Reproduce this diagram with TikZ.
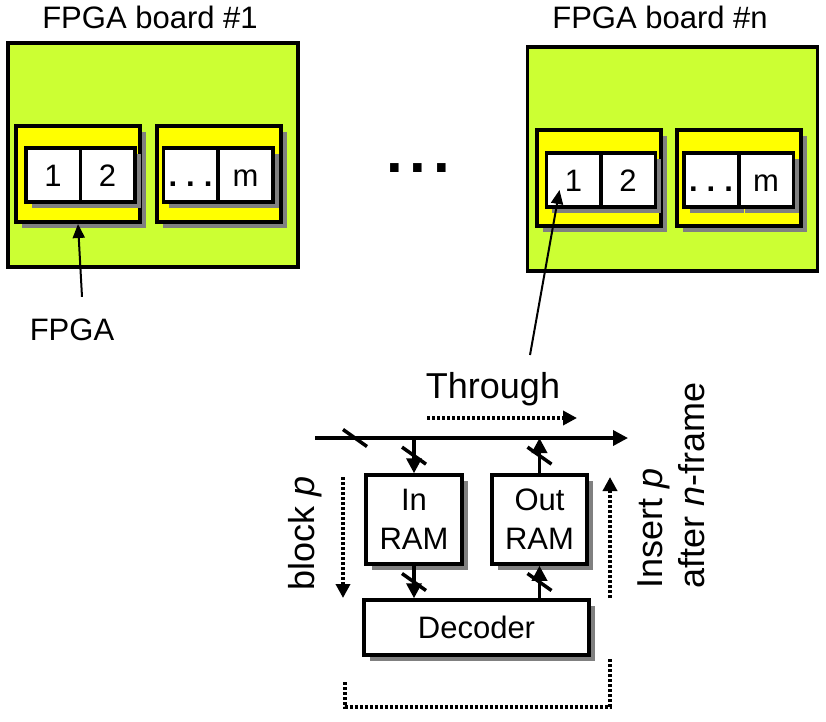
\documentclass[tikz,border=0pt]{standalone}
\usepackage{fontspec}
\setmainfont{Liberation Sans}
\usetikzlibrary{arrows.meta,shadows,calc}
\definecolor{boardgreen}{RGB}{204,255,51}
\definecolor{fpgayellow}{RGB}{255,255,0}
\definecolor{shadowgray}{RGB}{128,128,128}
\newcommand{\unitfont}{\fontsize{31}{39}\selectfont}
\newcommand{\notefont}{\fontsize{36}{42}\selectfont}
\tikzset{
	shade box/.style = {drop shadow={shadow xshift=6pt, shadow yshift=-6pt, fill=shadowgray, opacity=1}},
	board/.style = {draw, line width=3.5pt, fill=boardgreen, minimum width=290pt, minimum height=224pt, inner sep=0pt},
	chip/.style = {draw, line width=4pt, fill=fpgayellow, minimum width=124pt, minimum height=96pt, inner sep=0pt, shade box},
	cell/.style = {draw, line width=3.5pt, fill=white, minimum width=54.5pt, minimum height=54pt, inner sep=0pt, text height=22pt, text depth=0pt, font=\unitfont, shade box},
	unit/.style = {draw, line width=3.5pt, fill=white, align=center, inner sep=0pt, font=\unitfont, shade box},
	bus/.style = {line width=3.5pt, -{Triangle[length=15pt,width=15pt]}},
	flow/.style = {line width=3.5pt, dash pattern=on 3pt off 2pt, -{Triangle[length=14pt,width=14pt]}},
	pointer/.style = {line width=2pt, -{Triangle[length=14pt,width=12pt]}},
	buscut/.pic = {\draw [line width=3.5pt] (-12,-8.5) -- (12,8.5);}
}
\begin{document}
\begin{tikzpicture}[x=1pt, y=-1pt]
	\useasboundingbox (0,0) rectangle (826,721);
	% board #1
	\node [font=\unitfont, anchor=base] (title1) at (150,28) {FPGA board \#1};
	\node [board] (board1) at (153,155) {};
	\node [chip] (fpga11) at (78,174) {};
	\node [chip] (fpga12) at (219,174) {};
	\node [cell] (c11) at (53,175) {1};
	\node [cell] (c12) at (107.5,175) {2};
	\node [cell] (c13) at (190.5,175) {\bfseries .\kern9pt.\kern9pt.};
	\node [cell] (c1m) at (245.5,175) {m};
	% board #n
	\node [font=\unitfont, anchor=base] (titlen) at (660,28) {FPGA board \#n};
	\node [board] (boardn) at (672.5,159) {};
	\node [chip] (fpgan1) at (598.5,177.5) {};
	\node [chip] (fpgan2) at (739,177.5) {};
	\node [cell] (cn1) at (573.5,180) {1};
	\node [cell] (cn2) at (628,180) {2};
	\node [cell] (cn3) at (711,180) {\bfseries .\kern9pt.\kern9pt.};
	\node [cell] (cnm) at (766,180) {m};
	% boards in between
	\node [anchor=base, font=\fontsize{60}{60}\selectfont\bfseries] (more) at (418,172) {.\kern7pt.\kern7pt.};
	\node [font=\unitfont, anchor=base] (fpga) at (72,340) {FPGA};
	\draw [pointer] ([shift={(10,-18)}]fpga.north) -- (fpga11.south);
	% one FPGA
	\node [unit, minimum width=96pt, minimum height=89pt] (inram) at (414,519.5) {In\\RAM};
	\node [unit, minimum width=95pt, minimum height=89pt] (outram) at (539.5,519.5) {Out\\RAM};
	\node [unit, minimum width=225pt, minimum height=55pt] (dec) at (476.5,627.5) {Decoder};
	\coordinate (busL) at (315,438);
	\coordinate (busR) at (628,438);
	\coordinate (tap) at (530,355);
	\draw [pointer] (tap) -- ([shift={(-14,10)}]cn1.center);
	\draw [bus] (busL) -- (busR);
	\draw [bus] (inram.north |- busL) -- (inram.north);
	\draw [bus] (inram.south) -- (inram.south |- dec.north);
	\draw [bus] (outram.south |- dec.north) -- (outram.south);
	\draw [bus] (outram.north) -- (outram.north |- busL);
	\pic at (355,438) {buscut};
	\pic at ($(inram.north |- busL)!.5!(inram.north)$) {buscut};
	\pic at ($(inram.south)!.5!(inram.south |- dec.north)$) {buscut};
	\pic at ($(outram.south |- dec.north)!.5!(outram.south)$) {buscut};
	\pic at ($(outram.north)!.5!(outram.north |- busL)$) {buscut};
	% paths of a block
	\node [font=\notefont, anchor=base] (through) at (493,398) {Through};
	\draw [flow] (427,418) -- (577,418);
	\node [font=\notefont, rotate=90] (block) at (305,533) {block \textit{p}};
	\draw [flow] (343,477) -- (343,598);
	\node [font=\notefont, rotate=90, anchor=west, align=left, inner sep=0pt] (insert) at (671,589) {Insert \textit{p}\\after \textit{n}-frame};
	\draw [flow] (610,598) -- (610,477);
	\draw [flow, -] (345,682) -- (345,707) -- (610,707) -- (610,658);
\end{tikzpicture}
\end{document}
